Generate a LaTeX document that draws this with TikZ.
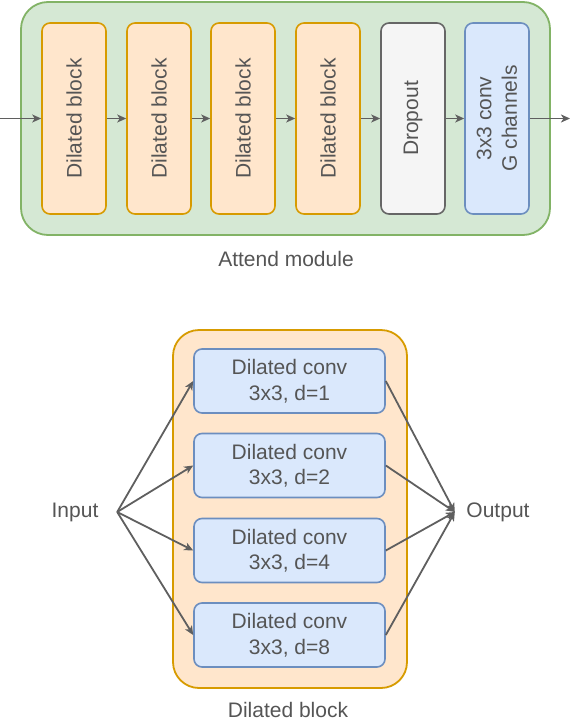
\documentclass[tikz,border=0pt]{standalone}
\usepackage{fontspec}
\setmainfont{Liberation Sans}
\usetikzlibrary{arrows.meta}
\definecolor{txt}{HTML}{555555}
\definecolor{arr}{HTML}{5F5F5F}
\definecolor{gfill}{HTML}{D5E8D4}\definecolor{gdraw}{HTML}{82B366}
\definecolor{ofill}{HTML}{FFE6CC}\definecolor{odraw}{HTML}{D79B00}
\definecolor{bfill}{HTML}{DAE8FC}\definecolor{bdraw}{HTML}{6C8EBF}
\definecolor{kfill}{HTML}{F5F5F5}\definecolor{kdraw}{HTML}{666666}
\tikzset{
  base/.style={font=\fontsize{21}{25.5}\selectfont, text=txt, align=center, inner sep=0pt},
  vbox/.style={base, draw, line width=1.6pt, rounded corners=8pt, rotate=90,
     minimum width=191pt, minimum height=64pt},
  dblock/.style={vbox, fill=ofill, draw=odraw},
  dropbox/.style={vbox, fill=kfill, draw=kdraw},
  convbox/.style={vbox, fill=bfill, draw=bdraw},
  dconv/.style={base, draw=bdraw, fill=bfill, line width=1.6pt, rounded corners=8pt,
     minimum width=191pt, minimum height=64pt},
  cont/.style={draw, line width=1.8pt},
  lbl/.style={base},
  arrow/.style={draw=arr, line width=1.8pt, -{Stealth[length=9pt,width=8pt,inset=2.5pt]}}
}
\begin{document}
\begin{tikzpicture}[x=1pt,y=-1pt]
\useasboundingbox (0,0) rectangle (570,720);
% top: attend module
\node[cont, fill=gfill, draw=gdraw, rounded corners=27pt, minimum width=529pt, minimum height=233pt] (attend) at (285.5,118.5) {};
\node[dblock] (b1) at (74,118.5) {Dilated block};
\node[dblock] (b2) at (159,118.5) {Dilated block};
\node[dblock] (b3) at (243,118.5) {Dilated block};
\node[dblock] (b4) at (328,118.5) {Dilated block};
\node[dropbox] (dr) at (413,118.5) {Dropout};
\node[convbox] (cv) at (497,118.5) {3x3 conv\\G channels};
\coordinate (tin) at (0,118.5);
\coordinate (tout) at (570,118.5);
\draw[arrow] (tin) -- (b1);
\draw[arrow] (b1) -- (b2);
\draw[arrow] (b2) -- (b3);
\draw[arrow] (b3) -- (b4);
\draw[arrow] (b4) -- (dr);
\draw[arrow] (dr) -- (cv);
\draw[arrow] (cv) -- (tout);
\node[lbl] (attlbl) at (286,259) {Attend module};
% bottom: dilated block
\node[cont, fill=ofill, draw=odraw, rounded corners=26pt, minimum width=234pt, minimum height=358pt] (dblk) at (290,509) {};
\node[dconv] (d1) at (289.5,381) {Dilated conv\\3x3, d=1};
\node[dconv] (d2) at (289.5,465.5) {Dilated conv\\3x3, d=2};
\node[dconv] (d3) at (289.5,550.5) {Dilated conv\\3x3, d=4};
\node[dconv] (d4) at (289.5,635) {Dilated conv\\3x3, d=8};
\node[lbl, minimum width=84pt] (inp) at (75,512) {Input};
\node[lbl, minimum width=86pt] (outp) at (498,512) {Output};
\foreach \d in {d1,d2,d3,d4} {
  \draw[arrow] (inp.east) -- (\d.west);
  \draw[arrow] (\d.east) -- (outp.west);
}
\node[lbl] (dlbl) at (288,710) {Dilated block};
\end{tikzpicture}
\end{document}
